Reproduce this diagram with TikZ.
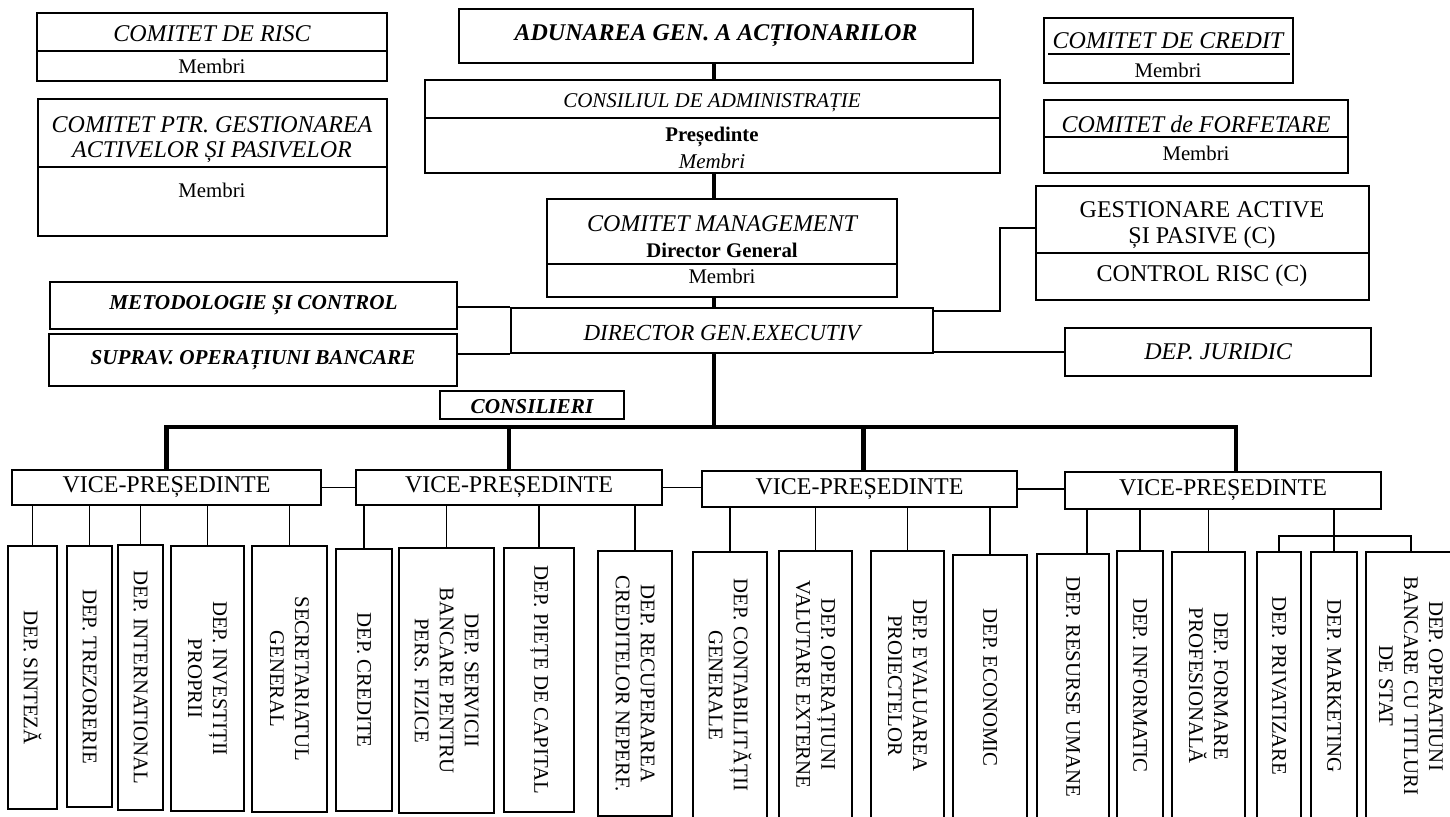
\documentclass[tikz,border=0pt]{standalone}
\usepackage{fontspec}
\setmainfont{Liberation Serif}
\usetikzlibrary{fit}
\begin{document}
\begin{tikzpicture}[x=0.5pt,y=-0.5pt,
  box/.style={draw,line width=1pt,inner sep=0pt},
  divl/.style={line width=1pt},
  conn/.style={line width=0.75pt},
  trunk/.style={line width=2.2pt},
  txt/.style={inner sep=0pt,align=center},
  fI/.style={font=\fontsize{12}{12.5}\selectfont\itshape},
  fR/.style={font=\fontsize{12}{13}\selectfont},
  fBI/.style={font=\fontsize{12}{13}\selectfont\bfseries\itshape},
  fbi/.style={font=\fontsize{10.6}{12}\selectfont\bfseries\itshape},
  fr/.style={font=\fontsize{10.4}{12.5}\selectfont},
  fi/.style={font=\fontsize{10.5}{12.5}\selectfont\itshape},
  fb/.style={font=\fontsize{10.4}{12.5}\selectfont\bfseries},
  vt/.style={txt,fr,rotate=-90}]
\useasboundingbox (0,0) rectangle (1450,817);

% ---------- top left committees
\node[box,fit={(37,13)(387,81)}] (risc) {};
\draw[divl] (risc.west |- 0,51) -- (risc.east |- 0,51);
\node[txt,fI] (risc-t) at (212,34) {COMITET DE RISC};
\node[txt,fr] (risc-m) at (212,66) {Membri};

\node[box,fit={(38,99)(387,236)}] (alm) {};
\draw[divl] (alm.west |- 0,167) -- (alm.east |- 0,167);
\node[txt,fI] (alm-t) at (212,140) {COMITET PTR. GESTIONAREA\\ACTIVELOR ȘI PASIVELOR};
\node[txt,fr] (alm-m) at (212,190) {Membri};

% ---------- centre column
\node[box,fit={(459,9)(973,63)}] (adun) {};
\node[txt,fBI] (adun-t) at (adun.center) {ADUNAREA GEN. A ACȚIONARILOR};

\node[box,fit={(425,80)(1000,173)}] (cons) {};
\draw[divl] (cons.west |- 0,118) -- (cons.east |- 0,118);
\node[txt,fi] (cons-t) at (712,103) {CONSILIUL DE ADMINISTRAȚIE};
\node[txt,fb] (cons-p) at (712,137) {Președinte};
\node[txt,fi] (cons-m) at (712,161) {Membri};

\node[box,fit={(547,199)(897,297)}] (mgmt) {};
\draw[divl] (mgmt.west |- 0,264) -- (mgmt.east |- 0,264);
\node[txt,fI] (mgmt-t) at (722,224) {COMITET MANAGEMENT};
\node[txt,fb] (mgmt-d) at (722,250) {Director General};
\node[txt,fr] (mgmt-m) at (722,276) {Membri};

% ---------- top right committees
\node[box,fit={(1044,18)(1293,83)}] (cred) {};
\draw[divl] (1048,54) -- (1290,54);
\node[txt,fI] (cred-t) at (1168,41) {COMITET DE CREDIT};
\node[txt,fr] (cred-m) at (1168,70) {Membri};

\node[box,fit={(1044,100)(1348,173)}] (forf) {};
\draw[divl] (forf.west |- 0,137) -- (forf.east |- 0,137);
\node[txt,fI] (forf-t) at (1196,124) {COMITET de FORFETARE};
\node[txt,fr] (forf-m) at (1196,153) {Membri};

\node[box,fit={(1036,186)(1369,300)}] (gest) {};
\draw[divl] (gest.west |- 0,253) -- (gest.east |- 0,253);
\node[txt,fR] (gest-t) at (1202,225) {GESTIONARE ACTIVE\\ȘI PASIVE (C)};
\node[txt,fR] (gest-c) at (1202,276) {CONTROL RISC (C)};

% ---------- executive level
\node[box,fit={(50,282)(457,329)}] (met) {};
\node[txt,fbi] (met-t) at (met.center) {METODOLOGIE ȘI CONTROL};
\node[box,fit={(49,334)(457,386)}] (sup) {};
\node[txt,fbi] (sup-t) at (sup.center) {SUPRAV. OPERAȚIUNI BANCARE};
\node[box,fit={(511,308)(933,353)}] (dir) {};
\node[txt,font=\fontsize{11.5}{13}\selectfont\itshape] (dir-t) at (722,333) {DIRECTOR GEN.EXECUTIV};
\node[box,fit={(1065,328)(1371,376)}] (jur) {};
\node[txt,fI] (jur-t) at (jur.center) {DEP. JURIDIC};
\node[box,fit={(440,391)(624,419)}] (cslr) {};
\node[txt,fbi] (cslr-t) at (532,407) {CONSILIERI};

% ---------- vice-presidents
\node[box,fit={(12,470)(321,505)}] (vp1) {};
\node[box,fit={(356,470)(662,505)}] (vp2) {};
\node[box,fit={(702,471)(1017,507)}] (vp3) {};
\node[box,fit={(1065,472)(1381,509)}] (vp4) {};
\foreach \v in {vp1,vp2,vp3,vp4}{\node[txt,fR] (\v-t) at (\v.center) {VICE-PREȘEDINTE};}

% ---------- departments
\node[box,fit={(8,546)(57,809)}] (d1) {};
\node[vt] (d1-t) at (d1.center) {DEP. SINTEZĂ};
\node[box,fit={(67,546)(112,807)}] (d2) {};
\node[vt] (d2-t) at (d2.center) {DEP. TREZORERIE};
\node[box,fit={(118,545)(163,810)}] (d3) {};
\node[vt] (d3-t) at (d3.center) {DEP. INTERNATIONAL};
\node[box,fit={(171,546)(244,811)}] (d4) {};
\node[vt] (d4-t) at (d4.center) {DEP. INVESTIȚII\\PROPRII};
\node[box,fit={(252,546)(327,812)}] (d5) {};
\node[vt] (d5-t) at (d5.center) {SECRETARIATUL\\GENERAL};
\node[box,fit={(336,549)(392,811)}] (d6) {};
\node[vt] (d6-t) at (d6.center) {DEP. CREDITE};
\node[box,fit={(399,548)(494,813)}] (d7) {};
\node[vt] (d7-t) at (d7.center) {DEP. SERVICII\\BANCARE PENTRU\\PERS. FIZICE};
\node[box,fit={(504,548)(574,812)}] (d8) {};
\node[vt] (d8-t) at (d8.center) {DEP. PIEȚE DE CAPITAL};
\node[box,fit={(598,551)(672,816)}] (d9) {};
\node[vt] (d9-t) at (d9.center) {DEP. RECUPERAREA\\CREDITELOR NEPERF.};
\node[box,fit={(693,552)(767,818)}] (d10) {};
\node[vt] (d10-t) at (d10.center) {DEP. CONTABILITĂȚII\\GENERALE};
\node[box,fit={(779,551)(852,818)}] (d11) {};
\node[vt] (d11-t) at (d11.center) {DEP. OPERAȚIUNI\\VALUTARE EXTERNE};
\node[box,fit={(871,551)(944,820)}] (d12) {};
\node[vt] (d12-t) at (d12.center) {DEP. EVALUAREA\\PROIECTELOR};
\node[box,fit={(953,555)(1027,820)}] (d13) {};
\node[vt] (d13-t) at (d13.center) {DEP. ECONOMIC};
\node[box,fit={(1037,554)(1109,820)}] (d14) {};
\node[vt] (d14-t) at (d14.center) {DEP. RESURSE UMANE};
\node[box,fit={(1117,551)(1163,820)}] (d15) {};
\node[vt] (d15-t) at (d15.center) {DEP. INFORMATIC};
\node[box,fit={(1172,552)(1245,820)}] (d16) {};
\node[vt] (d16-t) at (d16.center) {DEP. FORMARE\\PROFESIONALĂ};
\node[box,fit={(1257,552)(1301,820)}] (d17) {};
\node[vt] (d17-t) at (d17.center) {DEP. PRIVATIZARE};
\node[box,fit={(1311,552)(1357,820)}] (d18) {};
\node[vt] (d18-t) at (d18.center) {DEP. MARKETING};
\node[box,fit={(1366,552)(1456,820)}] (d19) {};
\node[vt] (d19-t) at (d19.center) {DEP. OPERATIUNI\\BANCARE CU TITLURI\\DE STAT};

% ---------- connectors
\coordinate (spine) at (714,0);
\coordinate (bus) at (714,427);
\coordinate (gj) at (1000,311);
\coordinate (sb) at (1334,536);

\draw[trunk] (adun.south -| spine) -- (cons.north -| spine);
\draw[trunk] (cons.south -| spine) -- (mgmt.north -| spine);
\draw[trunk] (mgmt.south -| spine) -- (dir.north -| spine);
\draw[conn] (met.east |- dir.north west) -- (dir.north west);
\draw[conn] (sup.east |- dir.south west) -- (dir.south west);
\draw[conn] ([yshift=7.5pt]gest.west) -| (gj) -- (gj -| dir.east);
\draw[conn] (jur.west) -- (jur.west -| dir.east);

\draw[trunk] (dir.south -| spine) -- (bus);
\draw[trunk] (vp1.north) |- (bus) -| ([xshift=6.5pt]vp4.north);
\draw[trunk] (vp2.north) -- (vp2.north |- bus);
\draw[trunk] ([xshift=2pt]vp3.north) -- ([xshift=2pt]vp3.north |- bus);

\draw[conn] (vp1.east) -- (vp2.west);
\draw[conn] (vp2.east) -- (vp2.east -| vp3.west);
\draw[conn] (vp3.east) -- (vp3.east -| vp4.west);

\foreach \d in {d1,d2,d3,d4,d5}{\draw[conn] (\d.north) -- (\d.north |- vp1.south);}
\foreach \d in {d6,d7,d8,d9}{\draw[conn] (\d.north) -- (\d.north |- vp2.south);}
\foreach \d in {d10,d11,d12,d13}{\draw[conn] (\d.north) -- (\d.north |- vp3.south);}
\draw[conn] ([xshift=7pt]d14.north) -- ([xshift=7pt]d14.north |- vp4.south);
\foreach \d in {d15,d16,d18}{\draw[conn] (\d.north) -- (\d.north |- vp4.south);}
\draw[conn] (d17.north) -- (d17.north |- sb) -- (d19.north |- sb) -- (d19.north);
\end{tikzpicture}
\end{document}
